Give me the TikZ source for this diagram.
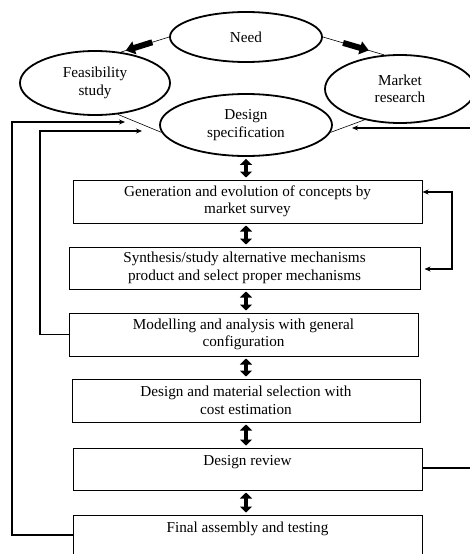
\documentclass[tikz,border=0pt]{standalone}
\usepackage{fontspec}
\setmainfont{Liberation Serif}
\usetikzlibrary{shapes.geometric,arrows.meta}
\begin{document}
\begin{tikzpicture}[x=1pt,y=-1pt,
  txt/.style={font=\fontsize{15.2}{17.5}\selectfont},
  ell/.style={draw,ellipse,line width=1.8pt,inner sep=0pt,align=center,txt},
  box/.style={draw,line width=1pt,minimum width=349pt,minimum height=43pt,inner sep=0pt,align=center,txt},
  dbl/.style={line width=4.5pt,{Triangle[width=12pt,length=6pt]}-{Triangle[width=12pt,length=6pt]}},
  blk/.style={line width=6pt,-{Triangle[width=13pt,length=9pt]}},
  thinl/.style={line width=0.6pt},
  fb/.style={line width=1.3pt,-{Stealth[length=6pt,width=5pt]}},
  fbb/.style={line width=1.3pt,{Stealth[length=6pt,width=5pt]}-{Stealth[length=6pt,width=5pt]}}]
\useasboundingbox (0,0) rectangle (470,554);
% ellipses
\node[ell,minimum width=152pt,minimum height=50pt] (need) at (246,37) {Need};
\node[ell,minimum width=150pt,minimum height=64pt] (feas) at (95,83) {Feasibility\\study};
\node[ell,minimum width=150pt,minimum height=68pt] (market) at (400,89) {Market\\research};
\node[ell,minimum width=172pt,minimum height=62pt] (spec) at (246,125) {Design\\specification};
% boxes
\node[box,minimum width=349pt,minimum height=43pt] (b1) at (247.5,201.5) {Generation and evolution of concepts by\\market survey};
\node[box,minimum width=351pt,minimum height=42pt] (b2) at (244.5,268) {Synthesis/study alternative mechanisms\\product and select proper mechanisms};
\node[box,minimum width=349pt,minimum height=43pt] (b3) at (243.5,334.5) {Modelling and analysis with general\\configuration};
\node[box,minimum width=348pt,minimum height=43pt] (b4) at (246,400.5) {Design and material selection with\\cost estimation};
\node[box,minimum width=349pt,minimum height=42pt] (b5) at (247.5,469) {Design review\\~};
\node[box,minimum width=349pt,minimum height=42pt] (b6) at (247.5,536) {Final assembly and testing\\~};
% thin links between ellipses
\draw[thinl] (need.west) -- (feas.50) coordinate[pos=0.35] (a1) coordinate[pos=0.9] (a2);
\draw[thinl] (need.east) -- (market.115) coordinate[pos=0.33] (c1) coordinate[pos=0.75] (c2);
\draw[thinl] (feas.-54) -- (spec.185);
\draw[thinl] (market.-139) -- (spec.-5);
\draw[blk] (a1) -- (a2);
\draw[blk] (c1) -- (c2);
% double arrows
\draw[dbl] ([yshift=-2pt]spec.south) -- ([yshift=2pt]b1.north -| spec.south);
\draw[dbl] ([yshift=-2pt]b1.south -| spec.south) -- ([yshift=2pt]b2.north -| spec.south);
\draw[dbl] ([yshift=-2pt]b2.south -| spec.south) -- ([yshift=2pt]b3.north -| spec.south);
\draw[dbl] ([yshift=-2pt]b3.south -| spec.south) -- ([yshift=2pt]b4.north -| spec.south);
\draw[dbl] ([yshift=-2pt]b4.south -| spec.south) -- ([yshift=2pt]b5.north -| spec.south);
\draw[dbl] ([yshift=-2pt]b5.south -| spec.south) -- ([yshift=2pt]b6.north -| spec.south);
% feedback
\coordinate (fa) at (125,122);
\coordinate (fi) at (142,131);
\coordinate (fr) at (352,128);
\draw[fb] ([yshift=1pt]b6.west) -- (12,535) |- (fa);
\draw[fb] (b3.west) -- (40,334.5) |- (fi);
\draw[fb] ([yshift=1pt]b5.east) -- (476,468) |- (fr);
\draw[fbb] ([yshift=9.5pt]b1.east) -- (452,192) -- (452,269) -- ([xshift=4pt,yshift=-1pt]b2.east);
\end{tikzpicture}
\end{document}
